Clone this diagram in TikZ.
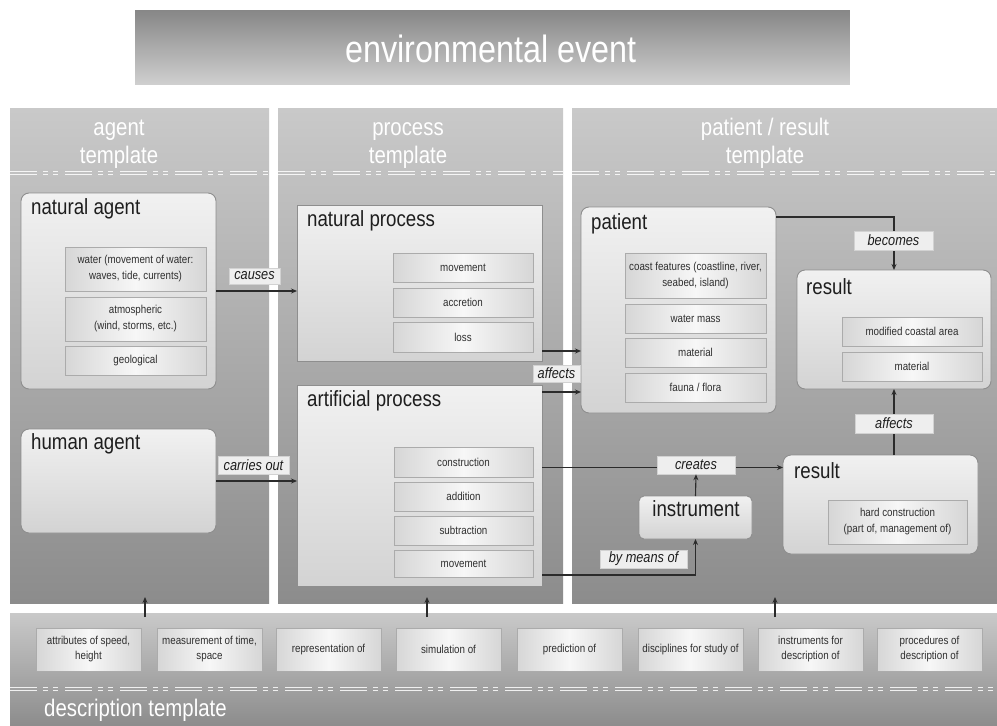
\documentclass[tikz,border=0pt]{standalone}
\usepackage{fontspec}
\setmainfont{Liberation Sans}[FakeStretch=0.85]
\usetikzlibrary{arrows.meta}
\newcommand{\fsz}[2]{\fontsize{#1pt}{#2pt}\selectfont}
\definecolor{panTop}{HTML}{C9C9C9}
\definecolor{panBot}{HTML}{8C8C8C}
\definecolor{ttlTop}{HTML}{868686}
\definecolor{ttlBot}{HTML}{D0D0D0}
\definecolor{boxTop}{HTML}{F1F1F1}
\definecolor{boxBot}{HTML}{D3D3D3}
\definecolor{boxLine}{HTML}{8E8E8E}
\definecolor{inLine}{HTML}{ABABAB}
\definecolor{inEdge}{HTML}{D6D6D6}
\definecolor{inMid}{HTML}{F7F7F7}
\definecolor{labFill}{HTML}{EEEEEE}
\definecolor{labLine}{HTML}{D2D2D2}
\definecolor{arrC}{HTML}{2B2B2B}
\definecolor{txtC}{HTML}{1E1E1E}
\definecolor{inTxt}{HTML}{2E2E2E}
\definecolor{descTop}{HTML}{CDCDCD}
\definecolor{descBot}{HTML}{8A8A8A}
\begin{document}
\begin{tikzpicture}[x=1pt,y=-1pt,
  panel/.style={draw=none, top color=panTop, bottom color=panBot, anchor=north west, inner sep=0pt, outer sep=0pt},
  hdr/.style={text=white, anchor=base, inner sep=0pt, font=\fsz{24}{28}},
  bigbox/.style={draw=boxLine, line width=0.9pt, top color=boxTop, bottom color=boxBot, anchor=north west, inner sep=0pt, outer sep=0pt},
  rbox/.style={bigbox, rounded corners=8pt},
  btitle/.style={anchor=west, text=txtC, font=\fsz{22}{24}, inner sep=0pt},
  inbox/.style={draw=inLine, line width=0.8pt, left color=inEdge, right color=inEdge, middle color=inMid, anchor=north west, inner sep=0pt, outer sep=0pt, align=center, text=inTxt, font=\fsz{11.5}{16}},
  lab/.style={draw=labLine, line width=0.6pt, fill=labFill, text=txtC, font=\fsz{15}{16}\itshape, inner sep=0pt},
  arr/.style={draw=arrC, line width=1.1pt, -{Stealth[length=6pt,width=5pt]}},
  ln/.style={draw=arrC, line width=1.1pt},
  dl/.style={draw=white, line width=1.2pt, dash pattern=on 27pt off 6pt on 5pt off 5pt on 5pt off 7pt, opacity=0.85}
]
\useasboundingbox (0,0) rectangle (997,726);
\fill[white] (0,0) rectangle (997,726);

% title
\node[draw=white, line width=0.8pt, top color=ttlTop, bottom color=ttlBot, anchor=north west, inner sep=0pt, minimum width=716pt, minimum height=76pt] (title) at (134,9) {};
\node[text=white, font=\fsz{38}{40}, inner sep=0pt] (titleT) at (491,49) {environmental event};

% panels
\node[panel, minimum width=259pt, minimum height=495pt] (agentP) at (10,108) {};
\node[panel, minimum width=285pt, minimum height=495pt] (procP) at (278,108) {};
\node[panel, minimum width=425pt, minimum height=495pt] (patP) at (572,108) {};
\node[panel, minimum width=987pt, minimum height=113pt] (descP) at (10,613) {};

% headers
\node[hdr] (agentH1) at (119,135) {agent};
\node[hdr] (agentH2) at (119,163) {template};
\node[hdr] (procH1) at (408,135) {process};
\node[hdr] (procH2) at (408,163) {template};
\node[hdr] (patH1) at (765,135) {patient / result};
\node[hdr] (patH2) at (765,163) {template};
\draw[dl] (10,171.8) -- (269,171.8); \draw[dl] (10,174.4) -- (269,174.4);
\draw[dl] (278,171.8) -- (563,171.8); \draw[dl] (278,174.4) -- (563,174.4);
\draw[dl] (572,171.8) -- (997,171.8); \draw[dl] (572,174.4) -- (997,174.4);
\draw[dl] (10,687.8) -- (997,687.8); \draw[dl] (10,690.4) -- (997,690.4);
\node[hdr, anchor=base west] (descH) at (44,716) {description template};

% agent boxes
\node[rbox, minimum width=195pt, minimum height=196pt] (natA) at (21,193) {};
\node[btitle] (natAT) at (31,209) {natural agent};
\node[inbox, minimum width=141pt, minimum height=44pt] (na1) at (65,247) {water (movement of water:\\waves, tide, currents)};
\node[inbox, minimum width=141pt, minimum height=44pt] (na2) at (65,297) {atmospheric\\(wind, storms, etc.)};
\node[inbox, minimum width=141pt, minimum height=29pt] (na3) at (65,346) {geological};

\node[rbox, minimum width=195pt, minimum height=104pt] (humA) at (21,429) {};
\node[btitle] (humAT) at (31,444) {human agent};

% process boxes
\node[bigbox, minimum width=245pt, minimum height=156pt] (natP) at (297,205) {};
\node[btitle] (natPT) at (307,221) {natural process};
\node[inbox, minimum width=140pt, minimum height=29pt] (np1) at (393,253) {movement};
\node[inbox, minimum width=140pt, minimum height=29pt] (np2) at (393,288) {accretion};
\node[inbox, minimum width=140pt, minimum height=30pt] (np3) at (393,322) {loss};

\node[bigbox, minimum width=245pt, minimum height=201pt] (artP) at (297,385) {};
\node[btitle] (artPT) at (307,401) {artificial process};
\node[inbox, minimum width=139pt, minimum height=30pt] (ap1) at (394,447) {construction};
\node[inbox, minimum width=139pt, minimum height=29pt] (ap2) at (394,482) {addition};
\node[inbox, minimum width=139pt, minimum height=29pt] (ap3) at (394,516) {subtraction};
\node[inbox, minimum width=139pt, minimum height=27pt] (ap4) at (394,550) {movement};

% patient / result
\node[rbox, minimum width=195pt, minimum height=206pt] (pat) at (581,207) {};
\node[btitle] (patT) at (591,224) {patient};
\node[inbox, minimum width=141pt, minimum height=45pt] (pt1) at (625,253) {coast features (coastline, river,\\seabed, island)};
\node[inbox, minimum width=141pt, minimum height=29pt] (pt2) at (625,304) {water mass};
\node[inbox, minimum width=141pt, minimum height=29pt] (pt3) at (625,338) {material};
\node[inbox, minimum width=141pt, minimum height=29pt] (pt4) at (625,373) {fauna / flora};

\node[rbox, minimum width=194pt, minimum height=119pt] (resT) at (797,270) {};
\node[btitle] (resTT) at (806,287) {result};
\node[inbox, minimum width=140pt, minimum height=29pt] (rt1) at (842,317) {modified coastal area};
\node[inbox, minimum width=140pt, minimum height=29pt] (rt2) at (842,352) {material};

\node[rbox, minimum width=195pt, minimum height=99pt] (resB) at (783,455) {};
\node[btitle] (resBT) at (794,471) {result};
\node[inbox, minimum width=139pt, minimum height=44pt] (rb1) at (828,500) {hard construction\\(part of, management of)};

\node[rbox, rounded corners=5pt, minimum width=113pt, minimum height=43pt] (instr) at (639,496) {};
\node[text=txtC, font=\fsz{22}{24}, inner sep=0pt] (instrT) at (696,509) {instrument};

% description boxes
\foreach \x/\n/\t in {36/d1/{attributes of speed,\\height}, 157/d2/{measurement of time,\\space}, 276/d3/{representation of}, 396/d4/{simulation of}, 517/d5/{prediction of}, 638/d6/{disciplines for study of}, 758/d7/{instruments for\\description of}, 877/d8/{procedures of\\description of}}{
  \node[inbox, font=\fsz{11.5}{15}, minimum width=105pt, minimum height=43pt] (\n) at (\x,628) {\t};
}

% connectors
\draw[arr] (natA.east) -- (natA.east -| natP.west);
\draw[arr] (humA.east) -- (humA.east -| artP.west);
\draw[arr] ([yshift=10pt]natP.south east) -- ([yshift=10pt]natP.south east -| pat.west);
\draw[arr] ([yshift=-7pt]artP.north east) -- ([yshift=-7pt]artP.north east -| pat.west);
\draw[arr] ([yshift=-10pt]pat.north east) -| (resT.north);
\draw[arr] (resB.north -| resT.south) -- (resT.south);
\draw[arr] ([yshift=18pt]artP.east) -- ([yshift=18pt]artP.east -| resB.west);
\draw[arr] ([yshift=11pt]artP.south east) -| (instr.south);

\coordinate (u1) at (145,617);
\coordinate (u2) at (427,617);
\coordinate (u3) at (775,617);
\draw[arr] (u1) -- (u1 |- 0,597);
\draw[arr] (u2) -- (u2 |- 0,597);
\draw[arr] (u3) -- (u3 |- 0,597);

% labels
\node[lab, minimum width=51pt, minimum height=16pt] (causes) at (254.5,276) {causes};
\node[lab, minimum width=71pt, minimum height=18pt] (carries) at (253.5,465) {carries out};
\node[lab, minimum width=47pt, minimum height=17pt] (aff1) at (556.5,373.5) {affects};
\node[lab, minimum width=79pt, minimum height=19pt] (becomes) at (893.5,240.5) {becomes};
\node[lab, minimum width=78pt, minimum height=19pt] (aff2) at (894,423.5) {affects};
\node[lab, minimum width=78pt, minimum height=18pt] (creates) at (696,465) {creates};
\node[lab, minimum width=87pt, minimum height=18pt] (bymeans) at (643.5,559) {by means of};
\draw[arr] (instr.north) -- (creates.south);
\end{tikzpicture}
\end{document}
